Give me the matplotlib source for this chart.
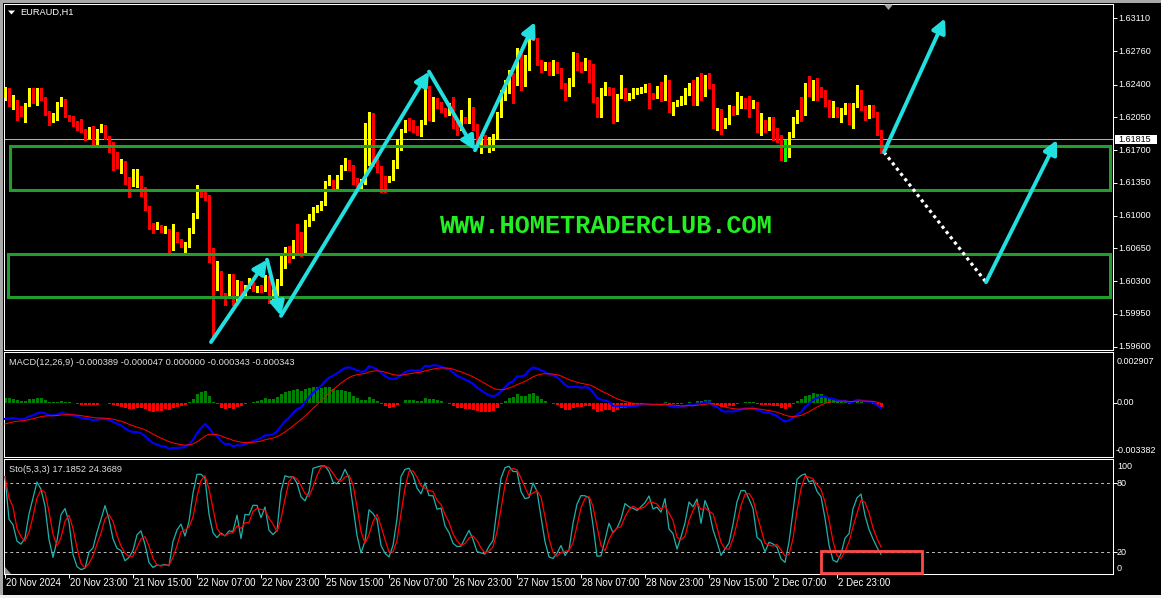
"""
EURAUD H1 (MT4 screenshot) - candles + MACD(12,26,9) + Sto(5,3,3)
"""
import numpy as np
import pandas as pd
import matplotlib
matplotlib.use("Agg")
import matplotlib.pyplot as plt
from matplotlib.patches import Rectangle, Polygon
from matplotlib.transforms import Bbox, TransformedBbox, blended_transform_factory

W, H = 1161, 598
plt.rcParams.update({"font.family": "Liberation Sans", "font.size": 6.7})

# ---- data: prices in points (1e-4), bars 20 Nov 07:00 -> 3 Dec 10:00 ----
first_open = 16226
close_pts = [
    16236, 16222, 16223, 16212, 16209, 16218, 16233, 16223, 16234, 16226,
    16210, 16202, 16207, 16218, 16224, 16207, 16203, 16199, 16193, 16190,
    16185, 16194, 16178, 16191, 16196, 16184, 16176, 16165, 16155, 16156,
    16137, 16132, 16139, 16141, 16129, 16109, 16090, 16087, 16090, 16084,
    16085, 16065, 16081, 16074, 16069, 16070, 16085, 16100, 16124, 16122,
    16120, 16053, 16030, 16040, 16015, 16014, 16036, 16007, 16030, 16015,
    16024, 16028, 16021, 16024, 16021, 16034, 16010, 16016, 16030, 16056,
    16057, 16055, 16071, 16070, 16060, 16092, 16098, 16106, 16109, 16113,
    16134, 16135, 16130, 16141, 16152, 16158, 16151, 16136, 16135, 16136,
    16157, 16198, 16156, 16151, 16139, 16137, 16140, 16152, 16171, 16191,
    16200, 16194, 16192, 16189, 16200, 16237, 16206, 16224, 16218, 16213,
    16210, 16216, 16197, 16193, 16205, 16200, 16201, 16195, 16179, 16184,
    16178, 16181, 16184, 16208, 16229, 16241, 16253, 16240, 16275, 16243,
    16256, 16293, 16290, 16263, 16258, 16260, 16252, 16263, 16256, 16240,
    16230, 16240, 16263, 16258, 16257, 16264, 16260, 16224, 16208, 16232,
    16235, 16232, 16203, 16228, 16234, 16226, 16228, 16233, 16234, 16235,
    16239, 16229, 16227, 16237, 16226, 16242, 16214, 16220, 16221, 16225,
    16233, 16238, 16221, 16245, 16229, 16245, 16239, 16197, 16213, 16195,
    16202, 16216, 16210, 16218, 16224, 16223, 16216, 16221, 16194, 16198,
    16194, 16201, 16191, 16181, 16165, 16165, 16187, 16202, 16211, 16210,
    16237, 16231, 16238, 16234, 16231, 16221, 16209, 16214, 16208, 16210,
    16217, 16201, 16218, 16233, 16215, 16206, 16216, 16209, 16189, 16182]
high_pts = [
    16238, 16234, 16229, 16224, 16217, 16221, 16237, 16237, 16237, 16237,
    16227, 16212, 16210, 16222, 16227, 16225, 16208, 16207, 16201, 16203,
    16193, 16195, 16196, 16193, 16198, 16197, 16185, 16179, 16168, 16161,
    16158, 16141, 16150, 16150, 16142, 16131, 16110, 16092, 16093, 16090,
    16089, 16086, 16091, 16083, 16075, 16072, 16087, 16103, 16133, 16128,
    16125, 16122, 16065, 16052, 16041, 16017, 16038, 16038, 16031, 16030,
    16026, 16033, 16029, 16025, 16026, 16037, 16036, 16022, 16032, 16058,
    16067, 16068, 16074, 16091, 16083, 16095, 16102, 16109, 16111, 16116,
    16137, 16144, 16138, 16144, 16154, 16162, 16160, 16154, 16140, 16139,
    16199, 16211, 16210, 16162, 16153, 16142, 16142, 16160, 16182, 16193,
    16202, 16204, 16202, 16196, 16202, 16239, 16239, 16227, 16226, 16222,
    16215, 16221, 16227, 16200, 16213, 16206, 16226, 16216, 16198, 16186,
    16186, 16184, 16187, 16211, 16234, 16245, 16256, 16245, 16279, 16277,
    16272, 16296, 16304, 16288, 16266, 16264, 16264, 16266, 16264, 16258,
    16242, 16247, 16275, 16274, 16264, 16269, 16266, 16262, 16227, 16237,
    16243, 16238, 16237, 16230, 16250, 16237, 16231, 16237, 16237, 16238,
    16241, 16242, 16231, 16239, 16243, 16250, 16245, 16222, 16224, 16228,
    16237, 16242, 16245, 16248, 16253, 16250, 16253, 16241, 16215, 16214,
    16204, 16218, 16217, 16232, 16228, 16226, 16228, 16224, 16222, 16210,
    16202, 16205, 16206, 16194, 16186, 16181, 16190, 16206, 16213, 16227,
    16242, 16249, 16245, 16247, 16238, 16234, 16224, 16223, 16216, 16215,
    16221, 16221, 16221, 16240, 16234, 16217, 16218, 16218, 16211, 16192]
low_pts = [
    16224, 16217, 16214, 16202, 16207, 16200, 16217, 16221, 16218, 16224,
    16208, 16197, 16200, 16202, 16217, 16205, 16201, 16196, 16192, 16189,
    16181, 16183, 16176, 16176, 16189, 16182, 16168, 16149, 16151, 16146,
    16134, 16120, 16132, 16131, 16121, 16106, 16086, 16082, 16086, 16083,
    16082, 16061, 16063, 16072, 16067, 16060, 16067, 16082, 16098, 16120,
    16117, 16051, 15970, 16021, 16013, 16005, 16012, 16005, 16010, 16013,
    16013, 16023, 16020, 16019, 16018, 16020, 16007, 16008, 16013, 16026,
    16044, 16051, 16058, 16059, 16057, 16058, 16089, 16095, 16104, 16106,
    16111, 16133, 16128, 16128, 16139, 16149, 16149, 16134, 16132, 16128,
    16134, 16154, 16153, 16147, 16125, 16125, 16136, 16138, 16151, 16170,
    16189, 16192, 16189, 16186, 16185, 16198, 16202, 16201, 16215, 16211,
    16207, 16208, 16194, 16186, 16192, 16199, 16199, 16192, 16176, 16167,
    16175, 16168, 16170, 16182, 16206, 16224, 16231, 16221, 16241, 16234,
    16239, 16266, 16288, 16261, 16254, 16256, 16250, 16250, 16253, 16237,
    16224, 16228, 16239, 16256, 16254, 16256, 16243, 16222, 16206, 16206,
    16229, 16229, 16199, 16201, 16226, 16224, 16224, 16226, 16230, 16231,
    16232, 16215, 16225, 16226, 16223, 16224, 16211, 16208, 16217, 16218,
    16219, 16229, 16218, 16218, 16224, 16228, 16237, 16194, 16192, 16187,
    16194, 16198, 16208, 16209, 16215, 16215, 16206, 16215, 16189, 16186,
    16189, 16192, 16181, 16179, 16160, 16158, 16163, 16184, 16199, 16201,
    16208, 16228, 16224, 16224, 16227, 16217, 16206, 16206, 16206, 16200,
    16209, 16198, 16194, 16216, 16213, 16202, 16204, 16206, 16186, 16167]

time_labels = ["20 Nov 2024", "20 Nov 23:00", "21 Nov 15:00", "22 Nov 07:00",
               "22 Nov 23:00", "25 Nov 15:00", "26 Nov 07:00", "26 Nov 23:00",
               "27 Nov 15:00", "28 Nov 07:00", "28 Nov 23:00", "29 Nov 15:00",
               "2 Dec 07:00", "2 Dec 23:00"]
label_step = 16  # bars between time labels
price_ticks = [1.63110, 1.62760, 1.62400, 1.62050, 1.61700, 1.61350,
               1.61000, 1.60650, 1.60300, 1.59950, 1.59600]
last_price = 1.61815
macd_ticks = [0.002907, 0.0, -0.003382]
macd_seed = [1.6229, 1.6242, -0.0016]   # ema12, ema26, signal before first bar
sto_text = "Sto(5,3,3) 17.1852 24.3689"
macd_text = "MACD(12,26,9) -0.000389 -0.000047 0.000000 -0.000343 -0.000343"

# drawn objects (bar index, price)
zone_top = [1.6174, 1.6059]
zone_bot = [1.6128, 1.6013]
zone_start = [1.25, 0.75]
zz_bar = [51.5, 65.5, 69, 106, 117.5, 132.5]
zz_price = [1.5965, 1.6053, 1.5993, 1.6254, 1.6170, 1.6307]
plan_bar = [219.75, 235, 245.25, 263]
plan_price = [1.6168, 1.6311, 1.6029, 1.6181]

CYAN = "#22e0e0"; GREEN = "#239d2e"; YEL = "#ffff00"; RED = "#ff0000"

# ---- series ----
c = np.array(close_pts) / 1e4
o = np.r_[first_open, close_pts[:-1]] / 1e4
hi = np.maximum(np.array(high_pts) / 1e4, np.maximum(o, c))
lo = np.minimum(np.array(low_pts) / 1e4, np.minimum(o, c))
x = np.arange(len(c))

e12, e26, sig = macd_seed
macd, signal = [], []
for p in c:
    e12 += 2 / 13 * (p - e12); e26 += 2 / 27 * (p - e26)
    m = e12 - e26; sig += 0.2 * (m - sig)
    macd.append(m); signal.append(sig)
macd = np.array(macd); signal = np.array(signal); hist = macd - signal

s_hi = pd.Series(hi).rolling(5, min_periods=1).max()
s_lo = pd.Series(lo).rolling(5, min_periods=1).min()
num = (pd.Series(c) - s_lo).rolling(3, min_periods=1).sum()
den = (s_hi - s_lo).rolling(3, min_periods=1).sum()
k_line = 100 * num / den
d_line = k_line.rolling(3, min_periods=1).mean()

# ---- figure ----
fig = plt.figure(figsize=(W / 100, H / 100), dpi=100, facecolor="black")
def box(y0, y1): return [4 / W, 1 - y1 / H, 1109 / W, (y1 - y0) / H]
ax = fig.add_axes(box(4, 350)); axm = fig.add_axes(box(352, 457)); axs = fig.add_axes(box(459, 574))
for a in (ax, axm, axs):
    a.set_facecolor("black"); a.set_xlim(-0.25, 277)
    for sp in a.spines.values(): sp.set_color("white"); sp.set_linewidth(0.75)
    a.yaxis.tick_right()
    a.tick_params(axis="y", colors="white", length=3, width=0.7, labelright=False, labelleft=False)
    a.tick_params(axis="x", colors="white", length=0, labelbottom=False)
ax.set_ylim(1.59565, 1.63263); ax.set_yticks(price_ticks)
axm.set_ylim(-0.00385, 0.003595); axm.set_yticks([0.0])
axs.set_ylim(1.1, 101.1); axs.set_yticks([20, 80])
axs.set_xticks(x[::label_step]); axs.tick_params(axis="x", length=3, width=0.7, direction="out")

# candles
col = np.where(c > o, YEL, np.where(c < o, RED, "#00ff00"))
body = np.maximum(np.abs(c - o), 0.00008)
ax.vlines(x, lo, hi, colors=col, lw=0.75, antialiased=False, zorder=2)
ax.bar(x, body, bottom=np.minimum(o, c), width=0.75, color=col, lw=0, antialiased=False, zorder=3)
ax.axhline(last_price, color="#b0b0b0", lw=0.75, zorder=1)

# zones
for t, b, s in zip(zone_top, zone_bot, zone_start):
    ax.add_patch(Rectangle((s, b), 276.2 - s, t - b, fill=False, ec=GREEN, lw=2.2, zorder=4))

# arrows
def arrow(a, p0, p1):
    a.annotate("", xy=p1, xytext=p0, annotation_clip=False, zorder=6,
               arrowprops=dict(arrowstyle="-|>,head_length=0.75,head_width=0.38", mutation_scale=11,
                               color=CYAN, lw=2.8, shrinkA=0, shrinkB=0))
zz = list(zip(zz_bar, zz_price))
for p0, p1 in zip(zz[:-1], zz[1:]): arrow(ax, p0, p1)
pl = list(zip(plan_bar, plan_price))
ax.plot([pl[0][0], pl[2][0]], [pl[0][1], pl[2][1]], color="white", lw=2.3, ls=(0, (1, 1.1)), zorder=5)
arrow(ax, pl[0], pl[1]); arrow(ax, pl[2], pl[3])

ax.text(0.543, 0.358, "WWW.HOMETRADERCLUB.COM", transform=ax.transAxes, ha="center", va="center",
        family="Liberation Mono", weight="bold", fontsize=18.2, color="#22ee22", zorder=7)

# MACD
hcol = np.where(hist >= 0, "#008000", RED)
axm.bar(x, hist, width=0.75, color=hcol, lw=0, antialiased=False, zorder=2)
axm.plot(x, macd, color="#0000ff", lw=1.5, zorder=3)
axm.plot(x, signal, color=RED, lw=0.75, zorder=4)

# Stochastic
for lvl in (20, 80): axs.axhline(lvl, color="#c0c0c0", lw=0.7, ls=(0, (3, 3)))
axs.plot(x, k_line, color="#20b2aa", lw=0.9, zorder=3)
axs.plot(x, d_line, color=RED, lw=0.9, zorder=4)
axs.add_patch(Rectangle((204, 1.6), 25.25, 19.4, fill=False, ec="#ff4848", lw=2.0, zorder=5, clip_on=False))

# ---- texts ----
def ftext(px, py, s, **kw): return fig.text(px / W, 1 - py / H, s, va="center", **kw)
WHITE = "white"
for v in price_ticks:
    py = 4 + (1.63263 - v) / (1.63263 - 1.59565) * 346
    t = ftext(1118, py, f"{v:.5f}", color=WHITE, fontsize=6.5)
    t.set_clip_box(TransformedBbox(Bbox([[1112 / W, 1 - 350.5 / H], [1.0, 1.0]]), fig.transFigure))
    t.set_clip_on(True)
lp_y = 4 + (1.63263 - last_price) / (1.63263 - 1.59565) * 346
fig.add_artist(Rectangle((1115 / W, 1 - (lp_y + 4.5) / H), 42 / W, 9 / H, transform=fig.transFigure,
                         fc="white", ec="none"))
ftext(1118, lp_y, f"{last_price:.5f}", color="black", fontsize=6.5)
for v, s in zip(macd_ticks, ["0.002907", "0.00", "-0.003382"]):
    py = 352 + (0.003595 - v) / (0.003595 + 0.00385) * 105
    ftext(1117 if v >= 0 else 1116, py, s, color=WHITE, fontsize=6.5)
for s, py in zip(["100", "80", "20", "0"], [466.7, 483.3, 552.3, 568.3]):
    ftext(1117, py, s, color=WHITE, fontsize=6.5)
ftext(20.5, 12.5, "EURAUD,H1", color=WHITE)
ftext(9, 362.5, macd_text, color="#e0e0e0")
ftext(9, 469.5, sto_text, color="#e0e0e0")
tr = blended_transform_factory(axs.transData, axs.transAxes)
for i, s in enumerate(time_labels):
    axs.text(i * label_step + 0.2, -9.5 / 115, s, transform=tr, color=WHITE, fontsize=7,
             ha="left", va="center", clip_on=False)

# ---- window chrome ----
def fpoly(pts, color):
    fig.add_artist(Polygon([(px / W, 1 - py / H) for px, py in pts], closed=True,
                           transform=fig.transFigure, fc=color, ec="none"))
fpoly([(8, 10.5), (15, 10.5), (11.5, 14.5)], WHITE)
fpoly([(884, 4.5), (893, 4.5), (888.5, 10)], "#a0a0a0")
fpoly([(5, 567), (5, 573.5), (11, 573.5)], "#909090")
fig.add_artist(Rectangle((0, 1 - 2.5 / H), 1, 2.5 / H, transform=fig.transFigure, fc="#a8a8a8", ec="none"))
fig.add_artist(Rectangle((0, 0), 2.5 / W, 1, transform=fig.transFigure, fc="#a8a8a8", ec="none"))
fig.add_artist(Rectangle((0, 0), 1, 3 / H, transform=fig.transFigure, fc="#f0f0f0", ec="none"))

fig.savefig("out.png", dpi=100, facecolor="black")
